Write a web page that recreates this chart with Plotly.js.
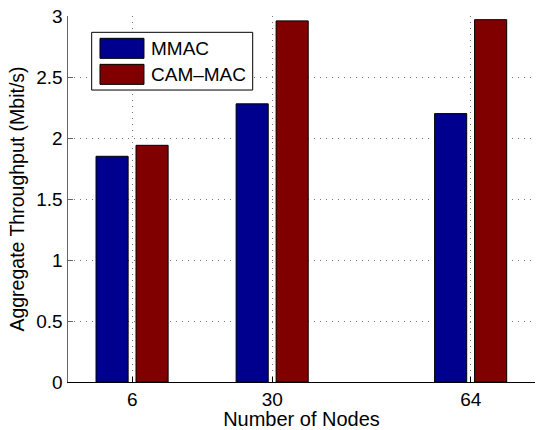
<!DOCTYPE html>
<html>
<head>
<meta charset="utf-8">
<script src="https://cdn.plot.ly/plotly-3.0.1.min.js"></script>
<style>html,body{margin:0;padding:0;background:#fff;}#chart{width:536px;height:430px;}</style>
</head>
<body>
<div id="chart"></div>
<script>
var nodes = [6, 30, 64];
var tickLabels = ['6', '30', '64'];
var seriesNames = ['MMAC', 'CAM\u2013MAC'];
var mmac = [1.85, 2.28, 2.20];
var camMac = [1.94, 2.96, 2.97];
var seriesColors = ['#00008F', '#800000'];

var FONT = 'Liberation Sans, Arial, Helvetica, sans-serif';

var traces = [
  {type: 'bar', x: nodes, y: mmac, name: seriesNames[0], width: 5.5, offset: -6.2,
   marker: {color: seriesColors[0], line: {color: '#000', width: 1}}, showlegend: false},
  {type: 'bar', x: nodes, y: camMac, name: seriesNames[1], width: 5.5, offset: 0.65,
   marker: {color: seriesColors[1], line: {color: '#000', width: 1}}, showlegend: false}
];

// legend drawn as shapes + annotations (MATLAB style wide patches)
var patchRows = [[0.8843, 0.939], [0.8132, 0.8679]];
var textY = [0.9116, 0.8407];
var shapes = [{type: 'rect', xref: 'paper', yref: 'paper', x0: 0.0507, x1: 0.3955, y0: 0.7977, y1: 0.9554,
  line: {color: '#000', width: 1}, fillcolor: '#fff', layer: 'above'}];
var annotations = [];
for (var i = 0; i < seriesNames.length; i++) {
  shapes.push({type: 'rect', xref: 'paper', yref: 'paper', x0: 0.0685, x1: 0.1627,
    y0: patchRows[i][0], y1: patchRows[i][1], fillcolor: seriesColors[i],
    line: {color: '#000', width: 1}, layer: 'above'});
  annotations.push({xref: 'paper', yref: 'paper', x: 0.1734, y: textY[i], xanchor: 'left', yanchor: 'middle',
    text: seriesNames[i], showarrow: false, font: {family: FONT, size: 19, color: '#000'}});
}

var layout = {
  width: 536, height: 430,
  margin: {l: 68, r: 1, t: 16, b: 48, pad: 0},
  paper_bgcolor: '#fff', plot_bgcolor: '#fff',
  barmode: 'overlay',
  font: {family: FONT, size: 19, color: '#000'},
  xaxis: {
    range: [-5, 75], tickmode: 'array', tickvals: nodes, ticktext: tickLabels,
    showgrid: true, gridcolor: '#777', griddash: '1px,5px', gridwidth: 1,
    zeroline: false, showline: true, linecolor: '#000', linewidth: 1,
    ticks: 'inside', ticklen: 5, tickcolor: '#000',
    tickfont: {family: FONT, size: 19, color: '#000'},
    title: {text: 'Number of Nodes', font: {family: FONT, size: 20, color: '#000'}, standoff: 0}
  },
  yaxis: {
    range: [0, 3], tickmode: 'array', tickvals: [0, 0.5, 1, 1.5, 2, 2.5, 3],
    ticktext: ['0', '0.5', '1', '1.5', '2', '2.5', '3'],
    showgrid: true, gridcolor: '#777', griddash: '1px,5px', gridwidth: 1,
    zeroline: false, showline: true, linecolor: '#666', linewidth: 1.5,
    ticks: 'inside', ticklen: 5, tickcolor: '#666',
    tickfont: {family: FONT, size: 19, color: '#000'},
    title: {text: 'Aggregate Throughput (Mbit/s)', font: {family: FONT, size: 19.5, color: '#000'}, standoff: 6}
  },
  shapes: shapes,
  annotations: annotations,
  showlegend: false
};

Plotly.newPlot('chart', traces, layout, {displayModeBar: false, staticPlot: true});
</script>
</body>
</html>
